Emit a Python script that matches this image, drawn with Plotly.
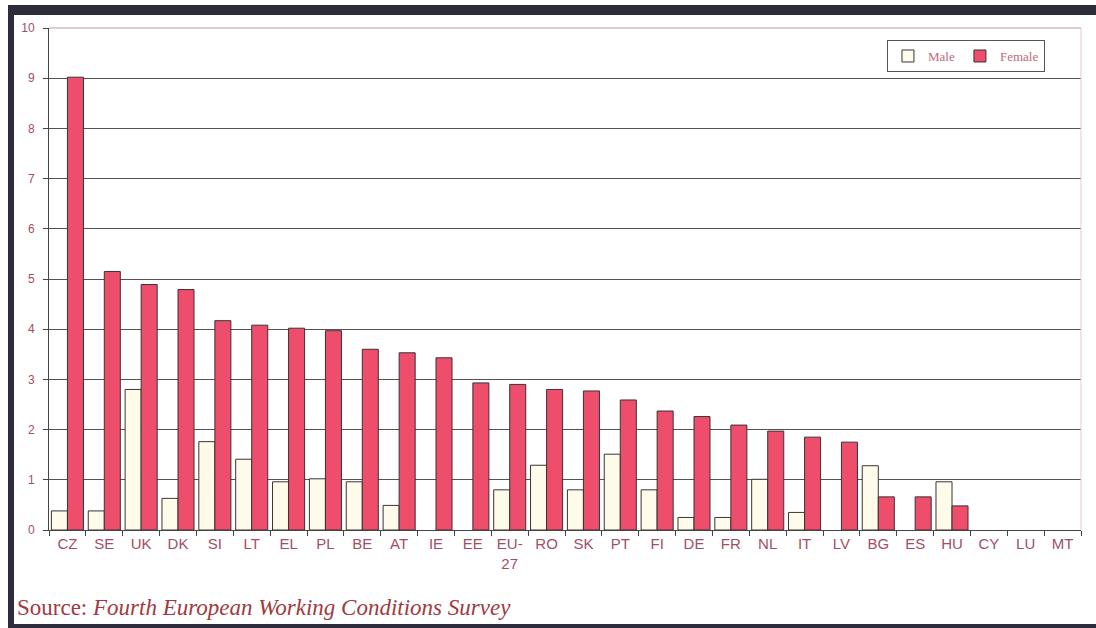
import plotly.graph_objects as go

countries = ["CZ", "SE", "UK", "DK", "SI", "LT", "EL", "PL", "BE", "AT", "IE", "EE", "EU-<br>27",
             "RO", "SK", "PT", "FI", "DE", "FR", "NL", "IT", "LV", "BG", "ES", "HU", "CY", "LU", "MT"]
# None = no bar visible in the reference
male = [0.38, 0.38, 2.8, 0.63, 1.76, 1.41, 0.96, 1.02, 0.96, 0.49, None, None, 0.8,
        1.29, 0.8, 1.51, 0.8, 0.25, 0.25, 1.01, 0.35, None, 1.28, None, 0.96, None, None, None]
female = [9.02, 5.15, 4.89, 4.79, 4.17, 4.08, 4.02, 3.97, 3.6, 3.53, 3.43, 2.93, 2.9,
          2.8, 2.77, 2.59, 2.37, 2.26, 2.09, 1.97, 1.85, 1.75, 0.66, 0.66, 0.48, None, None, None]
y_ticks = [0, 1, 2, 3, 4, 5, 6, 7, 8, 9, 10]

label_color = "#a24e66"
fig = go.Figure()
fig.add_trace(go.Bar(name="Male", x=countries, y=male,
                     marker=dict(color="#fffbea", line=dict(color="#3a3333", width=1))))
fig.add_trace(go.Bar(name="Female", x=countries, y=female,
                     marker=dict(color="#ee4d6b", line=dict(color="#3a3333", width=1))))

fig.update_layout(
    width=1096, height=628,
    margin=dict(l=49, r=15, t=28, b=98),
    paper_bgcolor="white", plot_bgcolor="white",
    barmode="group", bargap=0.13, bargroupgap=0,
    font=dict(family="Liberation Sans, Arial", color=label_color),
    showlegend=True,
    legend=dict(orientation="h", x=0.812, y=0.976, xanchor="left", yanchor="top",
                bgcolor="white", bordercolor="#555555", borderwidth=1,
                font=dict(family="Liberation Serif, Times New Roman", size=13, color="#c06a7a"),
                itemwidth=30, traceorder="normal"),
    xaxis=dict(type="category", range=[-0.5, 27.5], showline=True, linecolor="#444444",
               linewidth=1, ticks="outside", tickson="boundaries", ticklen=5,
               tickcolor="#444444", showgrid=False,
               tickfont=dict(size=15, color=label_color)),
    yaxis=dict(range=[0, 10], tickvals=y_ticks, showline=True, linecolor="#444444",
               linewidth=1, ticks="outside", ticklen=5, tickcolor="#444444",
               showgrid=True, gridcolor="#5a5050", gridwidth=1, zeroline=False,
               ticklabelstandoff=6,
               tickfont=dict(size=12, color=label_color)),
    shapes=[
        dict(type="rect", xref="paper", yref="paper", x0=0, x1=1, y0=1, y1=1,
             line=dict(color="#d8b8c0", width=1)),
        # dark frame of the picture
        dict(type="rect", xref="x domain", yref="y domain",
             x0=-41/1032, x1=(1096-49)/1032, y0=(530-15)/502, y1=(530-5)/502,
             fillcolor="#2c2c3c", line=dict(width=0), layer="above"),
        dict(type="rect", xref="x domain", yref="y domain",
             x0=-41/1032, x1=-35/1032, y0=(530-628)/502, y1=(530-5)/502,
             fillcolor="#2c2c3c", line=dict(width=0), layer="above"),
        dict(type="rect", xref="x domain", yref="y domain",
             x0=-41/1032, x1=(1096-49)/1032, y0=(530-628)/502, y1=(530-624)/502,
             fillcolor="#2c2c3c", line=dict(width=0), layer="above"),
        dict(type="line", xref="x domain", yref="y domain",
             x0=1, x1=1, y0=0, y1=1, line=dict(color="#e8c8d0", width=1)),
    ],
    annotations=[
        dict(xref="paper", yref="paper", x=-34/1032, y=(530-607)/502,
             xanchor="left", yanchor="middle", showarrow=False,
             text="Source: <i>Fourth European Working Conditions Survey</i>",
             font=dict(family="Liberation Serif, Times New Roman", size=23, color="#a03a40")),
    ],
)
fig.write_html("out.html")
